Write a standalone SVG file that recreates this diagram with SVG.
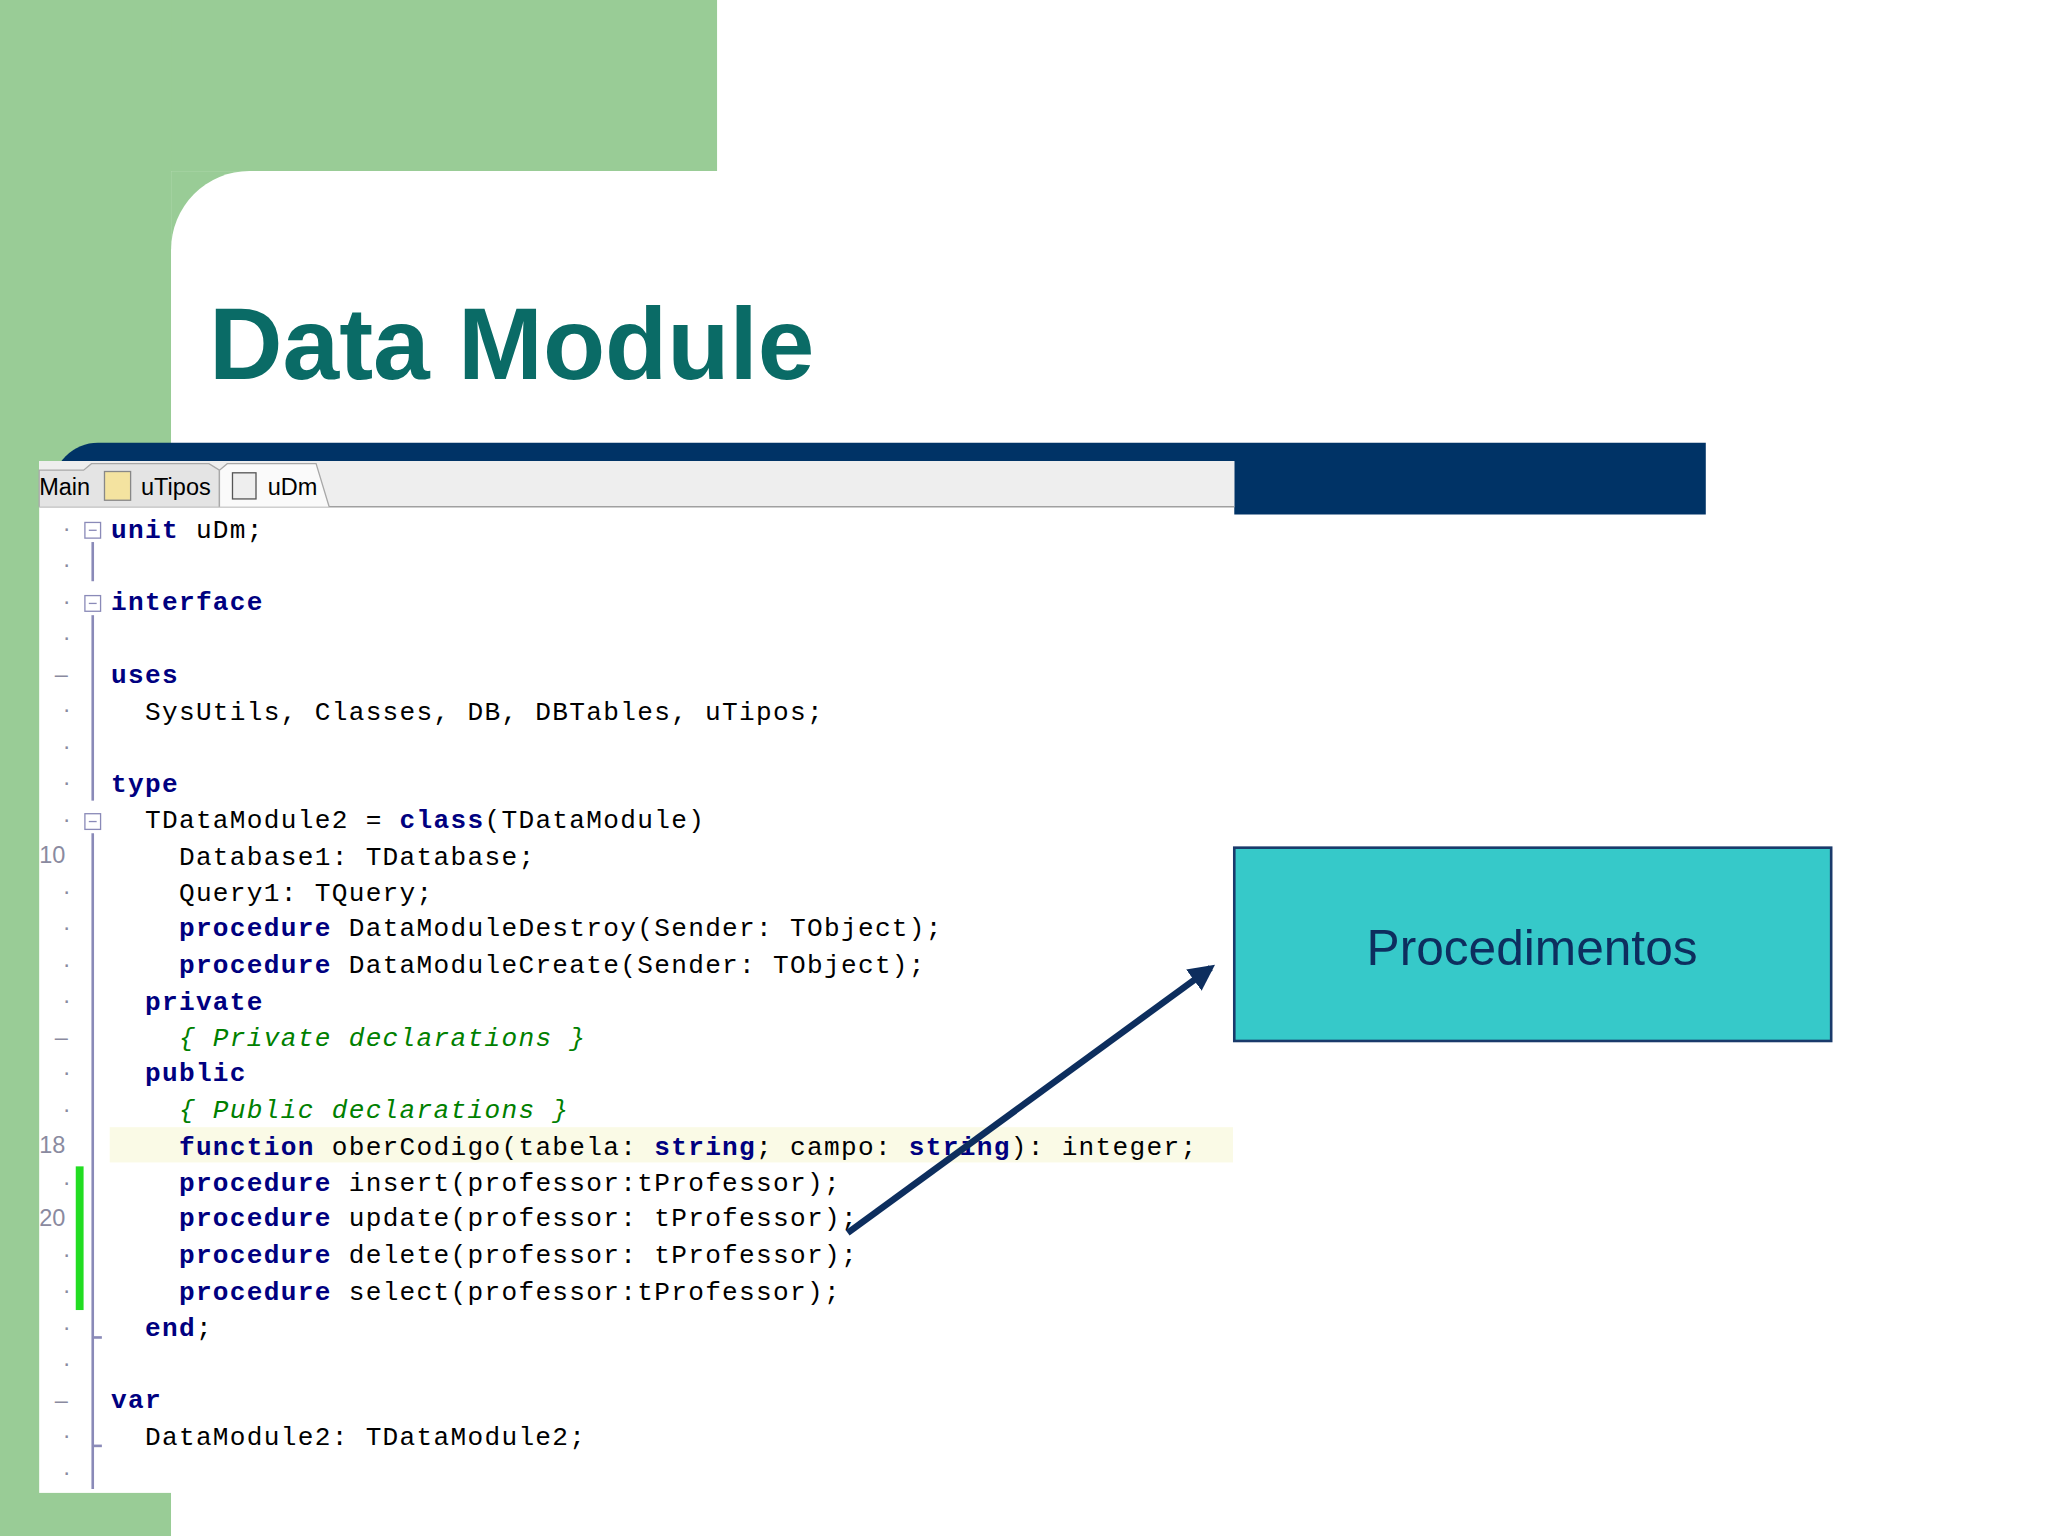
<svg xmlns="http://www.w3.org/2000/svg" width="2048" height="1536" viewBox="0 0 2048 1536">
<style>
.c{font-family:"Liberation Mono","Courier New",monospace;font-size:20px;letter-spacing:1px;fill:#000;white-space:pre}
.k{font-weight:bold;fill:#000080}
.m{font-style:italic;fill:#008000}
.g{font-family:"Liberation Sans",Arial,sans-serif;font-size:18px;fill:#8a8aa0}
.fb{fill:#fff;stroke:#8a8ab8;stroke-width:1}
</style>
<defs><marker id="ah" viewBox="0 0 10 10" refX="8" refY="5" markerWidth="4" markerHeight="4" orient="auto"><path d="M0,0L10,5L0,10z" fill="#0d2e5e"/></marker></defs>
<rect width="2048" height="1536" fill="#fff"/>
<g transform="scale(1.30612)">
<g id="background">
<rect x="0" y="0" width="549" height="131" fill="#99cc96"/>
<rect x="0" y="0" width="131" height="1176" fill="#99cc96"/>
<rect x="131" y="131" width="60" height="60" fill="#99cc96"/>
<path d="M131,191 A60,60 0 0 1 191,131 L1568,131 L1568,1176 L131,1176Z" fill="#fff"/>
<path d="M40,394 L40,374 A35,35 0 0 1 75,339 L1306,339 L1306,394Z" fill="#003366"/>
</g>
<g id="title"><text x="160" y="290" font-family="Liberation Sans,Arial,sans-serif" font-size="78" font-weight="bold" fill="#0a6b66">Data Module</text></g>
<g id="code-window">
<rect x="30" y="353" width="915" height="790" fill="#fff"/>
<rect x="30" y="353" width="915" height="35" fill="#eeeeee"/>
<line x1="30" y1="388" x2="945" y2="388" stroke="#a0a0a0"/>
<path d="M30,388 L30,360 L64,360 L70,355 L160,355 L168,360 L168,388" fill="#e4e4e4" stroke="#a8a8a8"/>
<path d="M168,388 L168,360 L174,355 L242,355 L252,388" fill="#fafafa" stroke="#a8a8a8"/>
<text x="30" y="379" font-family="Liberation Sans,Arial,sans-serif" font-size="18">Main</text>
<rect x="80" y="361" width="20" height="22" fill="#f4e3a0" stroke="#888"/>
<text x="108" y="379" font-family="Liberation Sans,Arial,sans-serif" font-size="18">uTipos</text>
<rect x="178" y="362" width="18" height="20" fill="#eee" stroke="#555"/>
<text x="205" y="379" font-family="Liberation Sans,Arial,sans-serif" font-size="18">uDm</text>
<rect x="84" y="863" width="860" height="27" fill="#fafae6"/>
<rect x="58" y="893" width="6" height="110" fill="#22dd22"/>
<line x1="71" y1="415" x2="71" y2="445" stroke="#8a8ab8" stroke-width="2"/>
<line x1="71" y1="471" x2="71" y2="613" stroke="#8a8ab8" stroke-width="2"/>
<line x1="71" y1="638" x2="71" y2="1140" stroke="#8a8ab8" stroke-width="2"/>
<line x1="71" y1="1024" x2="78" y2="1024" stroke="#8a8ab8" stroke-width="2"/>
<line x1="71" y1="1107" x2="78" y2="1107" stroke="#8a8ab8" stroke-width="2"/>
<g>
<rect class="fb" x="65" y="400" width="12" height="12"/><line x1="68" y1="406" x2="74" y2="406" stroke="#8a8ab8"/>
<rect class="fb" x="65" y="456" width="12" height="12"/><line x1="68" y1="462" x2="74" y2="462" stroke="#8a8ab8"/>
<rect class="fb" x="65" y="623" width="12" height="12"/><line x1="68" y1="629" x2="74" y2="629" stroke="#8a8ab8"/>
</g>
<g class="g">
<text x="48" y="410">·</text><text x="48" y="438">·</text><text x="48" y="466">·</text><text x="48" y="494">·</text>
<text x="42" y="522">–</text><text x="48" y="549">·</text><text x="48" y="577">·</text><text x="48" y="605">·</text><text x="48" y="633">·</text>
<text x="30" y="661">10</text><text x="48" y="688">·</text><text x="48" y="716">·</text><text x="48" y="744">·</text><text x="48" y="772">·</text>
<text x="42" y="800">–</text><text x="48" y="827">·</text><text x="48" y="855">·</text><text x="30" y="883">18</text><text x="48" y="911">·</text>
<text x="30" y="939">20</text><text x="48" y="966">·</text><text x="48" y="994">·</text><text x="48" y="1022">·</text><text x="48" y="1050">·</text>
<text x="42" y="1078">–</text><text x="48" y="1105">·</text><text x="48" y="1133">·</text>
</g>
<g class="c">
<text x="85" y="412"><tspan class="k">unit</tspan> uDm;</text>
<text x="85" y="467"><tspan class="k">interface</tspan></text>
<text x="85" y="523"><tspan class="k">uses</tspan></text>
<text x="85" y="551" xml:space="preserve">  SysUtils, Classes, DB, DBTables, uTipos;</text>
<text x="85" y="606"><tspan class="k">type</tspan></text>
<text x="85" y="634" xml:space="preserve">  TDataModule2 = <tspan class="k">class</tspan>(TDataModule)</text>
<text x="85" y="662" xml:space="preserve">    Database1: TDatabase;</text>
<text x="85" y="690" xml:space="preserve">    Query1: TQuery;</text>
<text x="85" y="717" xml:space="preserve">    <tspan class="k">procedure</tspan> DataModuleDestroy(Sender: TObject);</text>
<text x="85" y="745" xml:space="preserve">    <tspan class="k">procedure</tspan> DataModuleCreate(Sender: TObject);</text>
<text x="85" y="773" xml:space="preserve">  <tspan class="k">private</tspan></text>
<text x="85" y="801" xml:space="preserve">    <tspan class="m">{ Private declarations }</tspan></text>
<text x="85" y="828" xml:space="preserve">  <tspan class="k">public</tspan></text>
<text x="85" y="856" xml:space="preserve">    <tspan class="m">{ Public declarations }</tspan></text>
<text x="85" y="884" xml:space="preserve">    <tspan class="k">function</tspan> oberCodigo(tabela: <tspan class="k">string</tspan>; campo: <tspan class="k">string</tspan>): integer;</text>
<text x="85" y="912" xml:space="preserve">    <tspan class="k">procedure</tspan> insert(professor:tProfessor);</text>
<text x="85" y="939" xml:space="preserve">    <tspan class="k">procedure</tspan> update(professor: tProfessor);</text>
<text x="85" y="967" xml:space="preserve">    <tspan class="k">procedure</tspan> delete(professor: tProfessor);</text>
<text x="85" y="995" xml:space="preserve">    <tspan class="k">procedure</tspan> select(professor:tProfessor);</text>
<text x="85" y="1023" xml:space="preserve">  <tspan class="k">end</tspan>;</text>
<text x="85" y="1078"><tspan class="k">var</tspan></text>
<text x="85" y="1106" xml:space="preserve">  DataModule2: TDataModule2;</text>
</g>
</g>
<g id="procedimentos">
<rect x="945" y="649" width="457" height="148" fill="#36c9c9" stroke="#1a3a6b" stroke-width="2"/>
<text x="1173" y="739" text-anchor="middle" font-family="Liberation Sans,Arial,sans-serif" font-size="38" fill="#0d2e5e">Procedimentos</text>
</g>
<g id="connectors">
<line x1="649" y1="944" x2="927" y2="741" stroke="#0d2e5e" stroke-width="5" marker-end="url(#ah)"/>
</g>
</g>
</svg>
